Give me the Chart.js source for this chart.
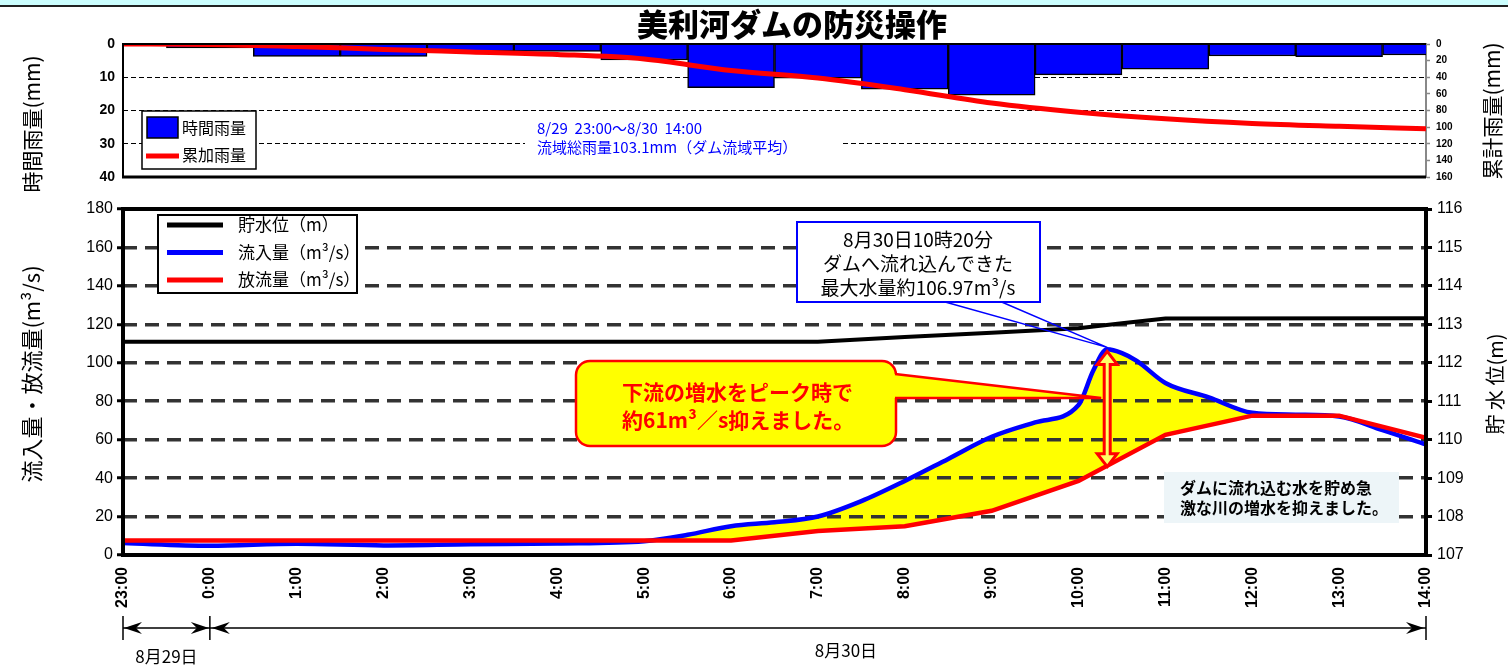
<!DOCTYPE html>
<html lang="ja">
<head>
<meta charset="utf-8">
<title>美利河ダムの防災操作</title>
<script src="https://cdn.jsdelivr.net/npm/chart.js@4.4.1/dist/chart.umd.min.js"></script>
<style>
  html, body { margin: 0; padding: 0; background: #fff; }
  #page { position: relative; width: 1508px; height: 666px; overflow: hidden; }
  #band { position: absolute; left: 0; top: 0; width: 1508px; height: 5px; background: #ccffff; border-bottom: 2px solid #222; }
  canvas { position: absolute; left: 0; }
  #rain { top: 0; }
  #flow { top: 190px; }
  #title { position: absolute; left: 637px; top: 4px; margin: 0; font: 900 31px/38px "Noto Sans CJK JP", sans-serif; color: #000; }
</style>
</head>
<body>
<div id="page">
  <div id="band"></div>
  <canvas id="rain" width="1508" height="200"></canvas>
  <canvas id="flow" width="1508" height="476"></canvas>
  <h1 id="title">美利河ダムの防災操作</h1>
</div>
<script>
// 横軸は 8/29 23:00 からの経過時間(h)
const hourLabels = ['23:00', '0:00', '1:00', '2:00', '3:00', '4:00', '5:00', '6:00', '7:00', '8:00', '9:00', '10:00', '11:00', '12:00', '13:00', '14:00'];
const dayLabels = ['8月29日', '8月30日'];

const rainHours = [0, 1, 2, 3, 4, 5, 6, 7, 8, 9, 10, 11, 12, 13, 14, 15];
const hourlyRain = [0, 1.2, 3.7, 3.7, 2.2, 2.2, 4.8, 13.1, 10.3, 13.6, 15.4, 9.3, 7.6, 3.6, 3.8, 3.3];
const totalRain = [0, 0.5, 3, 6.5, 9.5, 12.5, 18, 32, 41, 55, 71, 82, 90, 95.5, 99, 102];

const inflowHours = [0, 1, 2, 3, 4, 5, 6, 6.5, 7, 7.5, 8, 8.5, 9, 9.5, 10, 10.5, 11, 11.17, 11.33, 11.5, 11.67, 12, 12.5, 13, 13.5, 14, 14.5, 15];
const inflow = [6.2, 4.8, 5.8, 5, 5.6, 6, 7.2, 10.5, 15, 17, 20, 28, 38.5, 50, 61.5, 69, 78, 96, 107, 105, 101, 89.5, 82, 74, 73, 72, 65, 57.5];

const outflowHours = [0, 7, 8, 9, 10, 11, 12, 13, 14, 15];
const outflow = [7.5, 7.5, 12.5, 15, 23, 38.5, 62.5, 72.5, 72.5, 61];

const levelHours = [0, 8, 9, 10, 11, 11.5, 12, 15];
const level = [112.55, 112.55, 112.67, 112.78, 112.9, 113.03, 113.15, 113.16];

const peakHour = 11.33; // 8/30 10:20
const peakInflow = 106.97;
const cutFlow = 61;

const rainNote = ['8/29  23:00～8/30  14:00', '流域総雨量103.1mm（ダム流域平均）'];
const peakNote = ['8月30日10時20分', 'ダムへ流れ込んできた', '最大水量約106.97m³/s'];
const cutNote = ['下流の増水をピーク時で', '約61m³／s抑えました。'];
const infoNote = ['ダムに流れ込む水を貯め急', '激な川の増水を抑えました。'];

const JP = '"Noto Sans CJK JP", sans-serif';
Chart.defaults.font.family = '"Liberation Sans", Arial, sans-serif';
Chart.defaults.color = '#000';

const pts = (xs, ys) => xs.map((h, i) => ({ x: h, y: ys[i] }));

function vText(ctx, text, x, y, font) {
  ctx.save();
  ctx.translate(x, y);
  ctx.rotate(-Math.PI / 2);
  ctx.font = font;
  ctx.fillStyle = '#000';
  ctx.textAlign = 'center';
  ctx.textBaseline = 'middle';
  ctx.fillText(text, 0, 0);
  ctx.restore();
}

function arrowHead(ctx, x, y, dir) {
  ctx.beginPath();
  ctx.moveTo(x, y);
  ctx.lineTo(x - dir * 18, y - 6);
  ctx.lineTo(x - dir * 12, y);
  ctx.lineTo(x - dir * 18, y + 6);
  ctx.closePath();
  ctx.fill();
}

function doubleArrow(ctx, cx, y1, y2) {
  const hw = 10, hl = 13, sw = 3;
  ctx.beginPath();
  ctx.moveTo(cx, y1);
  ctx.lineTo(cx + hw, y1 + hl);
  ctx.lineTo(cx + sw, y1 + hl);
  ctx.lineTo(cx + sw, y2 - hl);
  ctx.lineTo(cx + hw, y2 - hl);
  ctx.lineTo(cx, y2);
  ctx.lineTo(cx - hw, y2 - hl);
  ctx.lineTo(cx - sw, y2 - hl);
  ctx.lineTo(cx - sw, y1 + hl);
  ctx.lineTo(cx - hw, y1 + hl);
  ctx.closePath();
  ctx.fillStyle = '#ffff66';
  ctx.fill();
  ctx.strokeStyle = '#ff0000';
  ctx.lineWidth = 3;
  ctx.lineJoin = 'miter';
  ctx.stroke();
}

const rainDecor = {
  id: 'rainDecor',
  afterDatasetsDraw(chart) {
    const { ctx, chartArea: a } = chart;
    ctx.save();
    ctx.strokeStyle = '#000';
    ctx.lineWidth = 2;
    ctx.beginPath();
    ctx.moveTo(a.right, a.top);
    ctx.lineTo(a.left, a.top);
    ctx.lineTo(a.left, a.bottom);
    ctx.stroke();
    ctx.lineWidth = 3;
    ctx.beginPath();
    ctx.moveTo(a.left - 1, a.bottom);
    ctx.lineTo(a.right, a.bottom);
    ctx.stroke();

    // 総雨量の注記
    ctx.font = '15px ' + JP;
    const w = Math.max(...rainNote.map(t => ctx.measureText(t).width));
    ctx.fillStyle = '#fff';
    ctx.fillRect(525, 114, w + 55, 46);
    ctx.fillStyle = '#0000ff';
    ctx.textBaseline = 'middle';
    ctx.fillText(rainNote[0], 537, 128);
    ctx.fillText(rainNote[1], 537, 147);

    // 凡例
    ctx.fillStyle = '#fff';
    ctx.fillRect(142, 111, 114, 58);
    ctx.strokeStyle = '#000';
    ctx.lineWidth = 1.5;
    ctx.strokeRect(142, 111, 114, 58);
    ctx.fillStyle = '#0000ff';
    ctx.fillRect(147, 117, 31, 21);
    ctx.strokeRect(147, 117, 31, 21);
    ctx.strokeStyle = '#ff0000';
    ctx.lineWidth = 5;
    ctx.beginPath();
    ctx.moveTo(146, 156);
    ctx.lineTo(179, 156);
    ctx.stroke();
    ctx.fillStyle = '#000';
    ctx.font = '16px ' + JP;
    ctx.fillText('時間雨量', 182, 128);
    ctx.fillText('累加雨量', 182, 155);

    vText(ctx, '時間雨量(mm)', 32, 124, '21px ' + JP);
    vText(ctx, '累計雨量(mm)', 1492, 111, '21px ' + JP);
    ctx.restore();
  }
};

const flowDecor = {
  id: 'flowDecor',
  afterDatasetsDraw(chart) {
    const { ctx, chartArea: a, scales: { x, y } } = chart;
    ctx.save();
    ctx.strokeStyle = '#000';
    ctx.lineWidth = 4;
    ctx.strokeRect(a.left, a.top, a.right - a.left, a.bottom - a.top);

    const px = x.getPixelForValue(peakHour);
    const pTop = y.getPixelForValue(peakInflow);
    const pBot = y.getPixelForValue(peakInflow - cutFlow);

    // 最大流入量の吹き出し
    ctx.strokeStyle = '#0000ff';
    ctx.lineWidth = 1.5;
    ctx.beginPath();
    ctx.moveTo(938, 110);
    ctx.lineTo(px, pTop - 2);
    ctx.lineTo(997, 110);
    ctx.stroke();
    ctx.fillStyle = '#fff';
    ctx.fillRect(797, 32, 243, 80);
    ctx.lineWidth = 2;
    ctx.strokeRect(797, 32, 243, 80);
    ctx.fillStyle = '#000';
    ctx.font = '19px ' + JP;
    ctx.textAlign = 'center';
    ctx.textBaseline = 'middle';
    peakNote.forEach((t, i) => ctx.fillText(t, 918, 50 + i * 24));

    // カット量の吹き出し
    ctx.fillStyle = '#ffff00';
    ctx.strokeStyle = '#ff0000';
    ctx.lineWidth = 2.5;
    ctx.beginPath();
    ctx.roundRect(576, 171, 320, 85, 14);
    ctx.fill();
    ctx.stroke();
    ctx.beginPath();
    ctx.moveTo(894, 184);
    ctx.lineTo(px - 6, 208);
    ctx.lineTo(894, 208);
    ctx.closePath();
    ctx.fill();
    ctx.beginPath();
    ctx.moveTo(895, 184);
    ctx.lineTo(px - 6, 208);
    ctx.lineTo(895, 208);
    ctx.stroke();
    ctx.fillStyle = '#ff0000';
    ctx.font = 'bold 21px ' + JP;
    ctx.textAlign = 'left';
    cutNote.forEach((t, i) => ctx.fillText(t, 622, 202 + i * 28));

    doubleArrow(ctx, px, pTop + 2, pBot);

    // 説明
    ctx.fillStyle = '#edf5f8';
    ctx.fillRect(1164, 282, 235, 51);
    ctx.fillStyle = '#000';
    ctx.font = 'bold 16px ' + JP;
    infoNote.forEach((t, i) => ctx.fillText(t, 1180, 298 + i * 20));

    // 凡例
    ctx.fillStyle = '#fff';
    ctx.fillRect(158, 25, 199, 78);
    ctx.strokeStyle = '#000';
    ctx.lineWidth = 2;
    ctx.strokeRect(158, 25, 199, 78);
    const legend = chart.data.datasets;
    const units = ['（m）', '（m³/s）', '（m³/s）'];
    ctx.font = '17px ' + JP;
    legend.forEach((ds, i) => {
      const ly = 35 + i * 27.5;
      ctx.strokeStyle = ds.borderColor;
      ctx.lineWidth = 5;
      ctx.beginPath();
      ctx.moveTo(167, ly);
      ctx.lineTo(223, ly);
      ctx.stroke();
      ctx.fillStyle = '#000';
      ctx.fillText(ds.label + units[i], 238, ly);
    });

    vText(ctx, '流入量・放流量(m³/s)', 32, 184, '22px ' + JP);
    vText(ctx, '貯 水 位(m)', 1495, 194, '20px ' + JP);

    // 日付の範囲
    const x0 = x.getPixelForValue(0), x1 = x.getPixelForValue(1), x15 = x.getPixelForValue(15);
    ctx.strokeStyle = '#000';
    ctx.fillStyle = '#000';
    ctx.lineWidth = 1.5;
    ctx.beginPath();
    [x0, x1, x15].forEach(v => { ctx.moveTo(v, 426); ctx.lineTo(v, 450); });
    ctx.moveTo(x0, 438); ctx.lineTo(x1, 438);
    ctx.moveTo(x1, 438); ctx.lineTo(x15, 438);
    ctx.stroke();
    arrowHead(ctx, x0 + 1, 438, -1);
    arrowHead(ctx, x1 - 1, 438, 1);
    arrowHead(ctx, x1 + 2, 438, -1);
    arrowHead(ctx, x15 - 2, 438, 1);
    ctx.font = '17px ' + JP;
    ctx.textAlign = 'center';
    ctx.fillText(dayLabels[0], (x0 + x1) / 2, 467);
    ctx.fillText(dayLabels[1], (x1 + x15) / 2 + 28, 461);
    ctx.restore();
  }
};

new Chart(document.getElementById('rain'), {
  type: 'bar',
  data: {
    datasets: [
      {
        type: 'line', label: '累加雨量', data: pts(rainHours, totalRain), yAxisID: 'y2',
        borderColor: '#ff0000', borderWidth: 5, pointRadius: 0, cubicInterpolationMode: 'monotone', order: 0
      },
      {
        type: 'bar', label: '時間雨量', data: pts(rainHours, hourlyRain), yAxisID: 'y',
        backgroundColor: '#0000ff', borderColor: '#000', borderWidth: 1.5,
        barPercentage: 1, categoryPercentage: 1, order: 1
      }
    ]
  },
  options: {
    responsive: false,
    animation: false,
    layout: { padding: { top: 44, bottom: 23 } },
    plugins: { legend: { display: false }, tooltip: { enabled: false } },
    scales: {
      x: { type: 'linear', min: 0, max: 15, offset: false, display: false },
      y: {
        position: 'left', min: 0, max: 40, reverse: true,
        afterFit: s => { s.width = 123; },
        ticks: { stepSize: 10, padding: 8, font: { size: 14, weight: 'bold' } },
        grid: {
          color: c => (c.tick.value === 0 || c.tick.value === 40) ? 'rgba(0,0,0,0)' : '#000',
          lineWidth: 1, drawTicks: false
        },
        border: { display: false, dash: [5, 3] }
      },
      y2: {
        position: 'right', min: 0, max: 160, reverse: true,
        afterFit: s => { s.width = 82; },
        ticks: { stepSize: 20, padding: 6, font: { size: 10, weight: 'bold' } },
        grid: { drawOnChartArea: false, tickLength: 4, tickColor: '#888', tickWidth: 1.5 },
        border: { display: true, color: '#888', width: 2 }
      }
    }
  },
  plugins: [rainDecor]
});

new Chart(document.getElementById('flow'), {
  type: 'line',
  data: {
    datasets: [
      {
        label: '貯水位', data: pts(levelHours, level), yAxisID: 'y2',
        borderColor: '#000', borderWidth: 4, pointRadius: 0, tension: 0, order: 0
      },
      {
        label: '流入量', data: pts(inflowHours, inflow), yAxisID: 'y',
        borderColor: '#0000ff', borderWidth: 4.5, pointRadius: 0, cubicInterpolationMode: 'monotone',
        fill: { target: 2, above: '#ffff00', below: 'rgba(0,0,0,0)' }, order: 2
      },
      {
        label: '放流量', data: pts(outflowHours, outflow), yAxisID: 'y',
        borderColor: '#ff0000', borderWidth: 4.5, pointRadius: 0, tension: 0, order: 1
      }
    ]
  },
  options: {
    responsive: false,
    animation: false,
    layout: { padding: { top: 19 } },
    plugins: {
      legend: { display: false },
      tooltip: { enabled: false },
      filler: { propagate: false, drawTime: 'beforeDraw' }
    },
    scales: {
      x: {
        type: 'linear', min: 0, max: 15,
        afterFit: s => { s.height = 111; },
        ticks: {
          stepSize: 1, autoSkip: false, maxRotation: 90, minRotation: 90, padding: 12,
          font: { size: 16, weight: 'bold' },
          callback: v => hourLabels[v]
        },
        grid: { display: false, drawTicks: false },
        border: { display: false }
      },
      y: {
        position: 'left', min: 0, max: 180,
        afterFit: s => { s.width = 123; },
        ticks: { stepSize: 20, padding: 4, font: { size: 16 } },
        grid: {
          color: c => (c.tick.value === 0 || c.tick.value === 180) ? 'rgba(0,0,0,0)' : '#333',
          lineWidth: 3.5, tickLength: 6, tickColor: '#000', tickWidth: 3, tickBorderDash: []
        },
        border: { display: false, dash: [14, 8] }
      },
      y2: {
        position: 'right', min: 107, max: 116,
        afterFit: s => { s.width = 82; },
        ticks: { stepSize: 1, padding: 5, font: { size: 16 } },
        grid: { drawOnChartArea: false, tickLength: 6, tickColor: '#000', tickWidth: 3 },
        border: { display: false }
      }
    }
  },
  plugins: [flowDecor]
});
</script>
</body>
</html>
